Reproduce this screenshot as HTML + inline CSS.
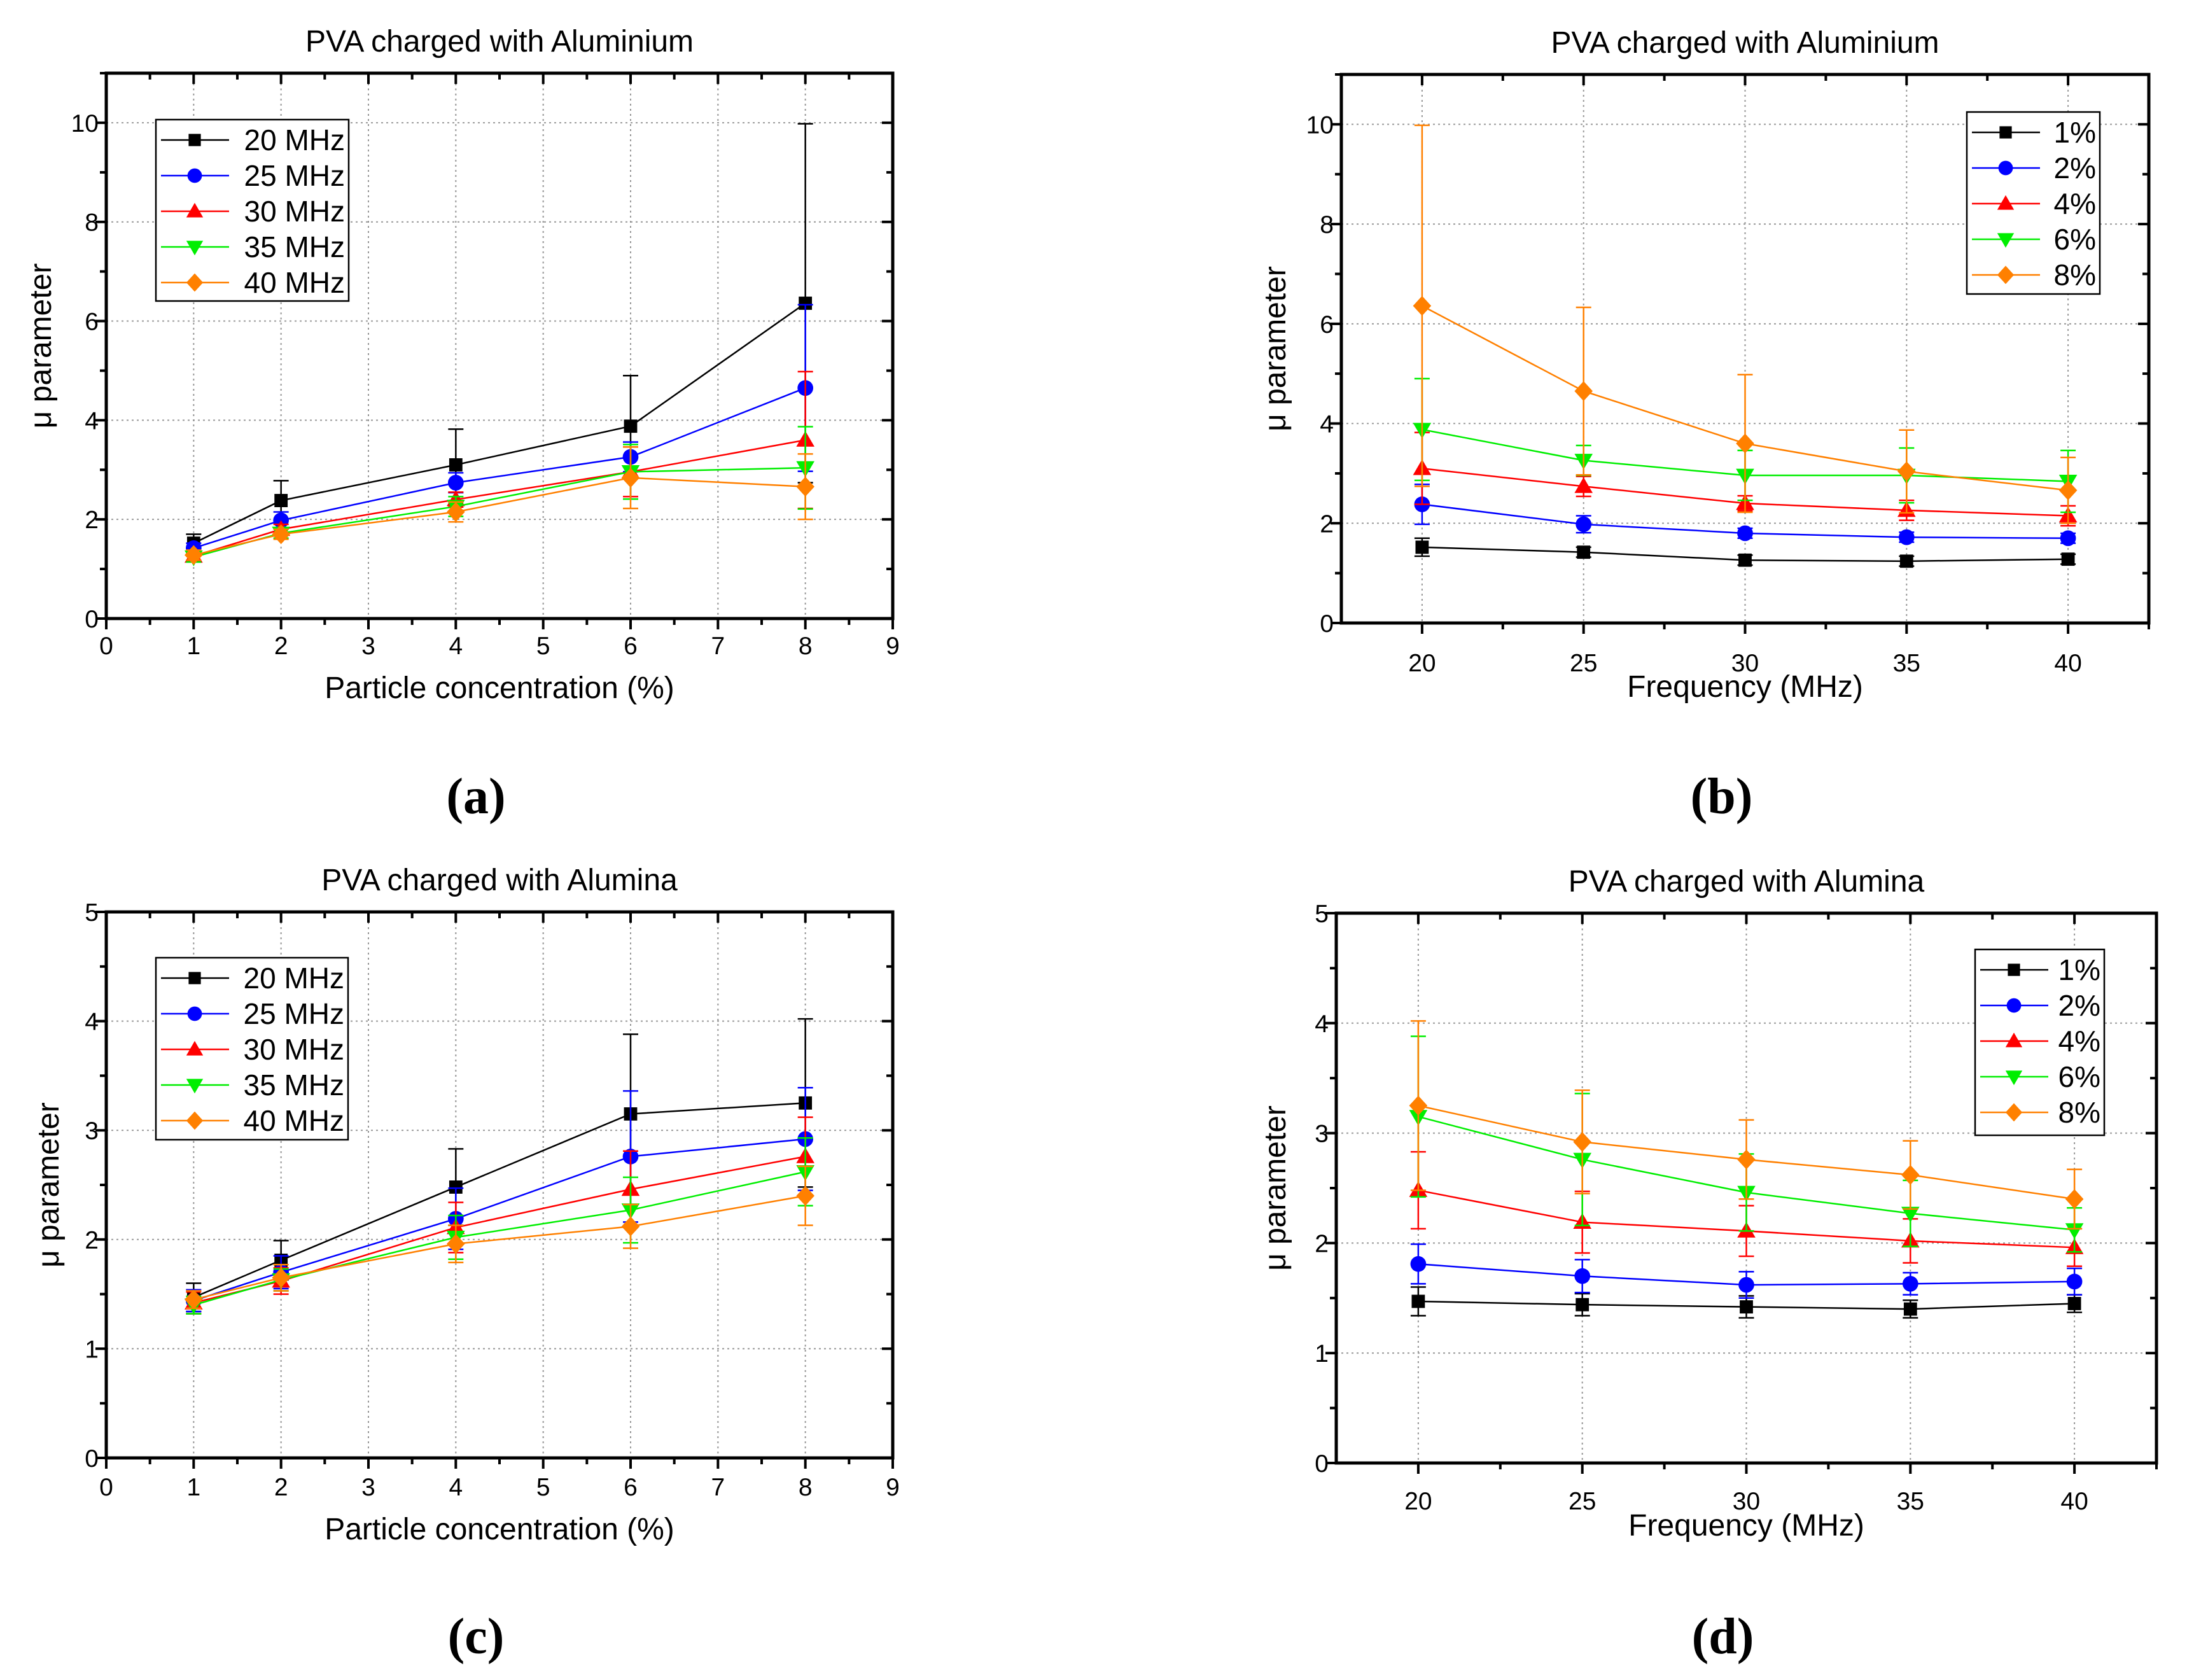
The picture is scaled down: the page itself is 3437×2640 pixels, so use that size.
<!DOCTYPE html>
<html><head><meta charset="utf-8"><style>
html,body{margin:0;padding:0;background:#fff;}
svg{display:block;font-family:"Liberation Sans",sans-serif;}
</style></head><body>
<svg id="fig" xmlns="http://www.w3.org/2000/svg" width="3437" height="2640" viewBox="0 0 3437 2640"></svg>
<script>
// ---- data ----
const concentrations = [1, 2, 4, 6, 8];
const frequencies = [20, 25, 30, 35, 40];
const freqLabels = ["20 MHz", "25 MHz", "30 MHz", "35 MHz", "40 MHz"];
const concLabels = ["1%", "2%", "4%", "6%", "8%"];
// Aluminium: rows = frequency, cols = concentration
const alu20 = [1.52, 2.38, 3.10, 3.88, 6.36];
const alu25 = [1.42, 1.98, 2.74, 3.26, 4.65];
const alu30 = [1.26, 1.80, 2.40, 2.96, 3.60];
const alu35 = [1.24, 1.72, 2.26, 2.96, 3.04];
const alu40 = [1.28, 1.70, 2.15, 2.84, 2.66];
const aluErr20 = [0.18, 0.40, 0.72, 1.02, 3.62];
const aluErr25 = [0.10, 0.17, 0.20, 0.30, 1.68];
const aluErr30 = [0.10, 0.10, 0.15, 0.50, 1.38];
const aluErr35 = [0.10, 0.10, 0.20, 0.55, 0.83];
const aluErr40 = [0.10, 0.10, 0.20, 0.62, 0.66];
// Alumina
const ala20 = [1.47, 1.81, 2.48, 3.15, 3.25];
const ala25 = [1.44, 1.70, 2.19, 2.76, 2.92];
const ala30 = [1.42, 1.62, 2.11, 2.46, 2.76];
const ala35 = [1.40, 1.63, 2.02, 2.27, 2.62];
const ala40 = [1.45, 1.65, 1.96, 2.12, 2.40];
const alaErr20 = [0.13, 0.18, 0.35, 0.73, 0.77];
const alaErr25 = [0.10, 0.15, 0.28, 0.60, 0.47];
const alaErr30 = [0.10, 0.12, 0.23, 0.35, 0.36];
const alaErr35 = [0.08, 0.10, 0.20, 0.30, 0.31];
const alaErr40 = [0.08, 0.12, 0.17, 0.20, 0.27];
const ticksConc = [0,1,2,3,4,5,6,7,8,9];
const ticksFreq = [20,25,30,35,40];
const yTicksA = [0,2,4,6,8,10];
const yTicksC = [0,1,2,3,4,5];

const colors = ["#000000","#0000ff","#ff0000","#00ee00","#ff8000"];
const markers = ["square","circle","up","down","diamond"];
const NS = "http://www.w3.org/2000/svg";
const svg = document.getElementById("fig");
function el(tag, attrs, parent){const e=document.createElementNS(NS,tag);for(const k in attrs)e.setAttribute(k,attrs[k]);(parent||svg).appendChild(e);return e;}
function txt(s, attrs, parent){const t=el("text",attrs,parent);t.textContent=s;return t;}

function marker(g, type, cx, cy, col, s){
  let m;
  if(type==="square") m=el("rect",{x:cx-s*0.8,y:cy-s*0.8,width:s*1.6,height:s*1.6,fill:col},g);
  else if(type==="circle") m=el("circle",{cx:cx,cy:cy,r:s*0.95,fill:col},g);
  else if(type==="up") m=el("polygon",{points:`${cx},${cy-s*1.1} ${cx-s*1.1},${cy+s*0.8} ${cx+s*1.1},${cy+s*0.8}`,fill:col},g);
  else if(type==="down") m=el("polygon",{points:`${cx},${cy+s*1.1} ${cx-s*1.1},${cy-s*0.8} ${cx+s*1.1},${cy-s*0.8}`,fill:col},g);
  else m=el("polygon",{points:`${cx},${cy-s*1.2} ${cx+s*1.1},${cy} ${cx},${cy+s*1.2} ${cx-s*1.1},${cy}`,fill:col},g);
  
  
  return m;
}

function panel(o){
  const g=el("g",{});
  
  
  const X=v=>o.x0+(v-o.xmin)/(o.xmax-o.xmin)*(o.x1-o.x0);
  const Y=v=>o.y1-(v-o.ymin)/(o.ymax-o.ymin)*(o.y1-o.y0);
  o.xt.forEach(v=>{ if(v>o.xmin&&v<o.xmax){const l=el("line",{x1:X(v),x2:X(v),y1:o.y0,y2:o.y1,stroke:"#999",
    "stroke-width":2,"stroke-dasharray":"3,5"},g);}});
  o.yt.forEach(v=>{ if(v>o.ymin&&v<o.ymax){const l=el("line",{x1:o.x0,x2:o.x1,y1:Y(v),y2:Y(v),stroke:"#999",
    "stroke-width":2,"stroke-dasharray":"3,5"},g);}});
  o.series.forEach((s,i)=>{
    const sg=el("g",{},g);
    
    
    const pts=o.xs.map((x,j)=>X(x)+","+Y(s[j])).join(" ");
    el("polyline",{points:pts,fill:"none",stroke:colors[i],"stroke-width":2.5},sg);
    o.xs.forEach((x,j)=>{
      const e=o.errs[i][j], cx=X(x);
      el("line",{x1:cx,x2:cx,y1:Y(s[j]+e),y2:Y(s[j]-e),stroke:colors[i],"stroke-width":2.5},sg);
      el("line",{x1:cx-12,x2:cx+12,y1:Y(s[j]+e),y2:Y(s[j]+e),stroke:colors[i],"stroke-width":2.5},sg);
      el("line",{x1:cx-12,x2:cx+12,y1:Y(s[j]-e),y2:Y(s[j]-e),stroke:colors[i],"stroke-width":2.5},sg);
    });
    o.xs.forEach((x,j)=>marker(sg,markers[i],X(x),Y(s[j]),colors[i],13));
  });
  const fr=el("rect",{x:o.x0,y:o.y0,width:o.x1-o.x0,height:o.y1-o.y0,fill:"none",stroke:"#000","stroke-width":5},g);
  
  const xstep=(o.xt[1]-o.xt[0])/2;
  for(let v=o.xt[0]; v<=o.xmax+1e-9; v+=xstep){
    if(v<o.xmin) continue;
    const major=Math.abs((v-o.xt[0])/(2*xstep)-Math.round((v-o.xt[0])/(2*xstep)))<1e-6;
    const L=major?17:10;
    el("line",{x1:X(v),x2:X(v),y1:o.y1,y2:o.y1+L,stroke:"#000","stroke-width":4},g);
    el("line",{x1:X(v),x2:X(v),y1:o.y0,y2:o.y0+L,stroke:"#000","stroke-width":4},g);
  }
  const ystep=(o.yt[1]-o.yt[0])/2;
  for(let v=o.ymin; v<=o.ymax+1e-9; v+=ystep){
    const major=Math.abs(v/(2*ystep)-Math.round(v/(2*ystep)))<1e-6;
    const L=major?17:10;
    el("line",{x1:o.x0-L,x2:o.x0,y1:Y(v),y2:Y(v),stroke:"#000","stroke-width":4},g);
    el("line",{x1:o.x1-L,x2:o.x1,y1:Y(v),y2:Y(v),stroke:"#000","stroke-width":4},g);
  }
  o.xt.forEach(v=>{const t=txt(String(v),{x:X(v),y:o.xly,"font-size":39,"text-anchor":"middle"},g);
    });
  o.yt.forEach(v=>{const t=txt(String(v),{x:o.x0-12,y:Y(v)+14,"font-size":39,"text-anchor":"end"},g);
    });
  const tt=txt(o.title,{x:(o.x0+o.x1)/2,y:o.y0-34,"font-size":48,"text-anchor":"middle"},g);
  
  const xa=txt(o.xtitle,{x:(o.x0+o.x1)/2,y:o.xty,"font-size":48,"text-anchor":"middle"},g);
  
  const ya=txt("μ parameter",{x:0,y:0,"font-size":48,"text-anchor":"middle",transform:`translate(${o.yax},${(o.y0+o.y1)/2}) rotate(-90)`},g);
  
  const pl=txt(o.plabel,{x:(o.x0+o.x1)/2+(o.plx||0),y:o.ply,"font-size":80,"font-weight":"bold","text-anchor":"middle","font-family":"Liberation Serif, serif"},g);
  
  const lg=el("g",{},g);
  
  el("rect",{x:o.lx,y:o.ly,width:o.lw,height:o.lh,fill:"#fff",stroke:"#000","stroke-width":2.5},lg);
  o.labels.forEach((lab,i)=>{
    const cy=o.ly+32+i*56;
    const eg=el("g",{},lg);
    
    el("line",{x1:o.lx+8,x2:o.lx+115,y1:cy,y2:cy,stroke:colors[i],"stroke-width":2.5},eg);
    marker(eg,markers[i],o.lx+61,cy,colors[i],12);
    txt(lab,{x:o.lx+o.lw-6,y:cy+16,"font-size":46,"text-anchor":"end"},eg);
  });
}

const transpose=m=>m[0].map((_,j)=>m.map(r=>r[j]));
const aluS=[alu20,alu25,alu30,alu35,alu40], aluE=[aluErr20,aluErr25,aluErr30,aluErr35,aluErr40];
const alaS=[ala20,ala25,ala30,ala35,ala40], alaE=[alaErr20,alaErr25,alaErr30,alaErr35,alaErr40];

panel({name:"panel-a",x0:167,x1:1403,y0:115,y1:972,xmin:0,xmax:9,ymin:0,ymax:11,xt:ticksConc,yt:yTicksA,
  xs:concentrations,series:aluS,errs:aluE,labels:freqLabels,title:"PVA charged with Aluminium",
  xtitle:"Particle concentration (%)",xly:1028,xty:1097,yax:80,plabel:"(a)",ply:1278,plx:-37,
  lx:245,ly:188,lw:303,lh:285});
panel({name:"panel-b",x0:2108,x1:3377,y0:117,y1:979,xmin:17.5,xmax:42.5,ymin:0,ymax:11,xt:ticksFreq,yt:yTicksA,
  xs:frequencies,series:transpose(aluS),errs:transpose(aluE),labels:concLabels,title:"PVA charged with Aluminium",
  xtitle:"Frequency (MHz)",xly:1055,xty:1095,yax:2020,plabel:"(b)",ply:1278,plx:-37,
  lx:3091,ly:176,lw:209,lh:286});
panel({name:"panel-c",x0:167,x1:1403,y0:1433,y1:2291,xmin:0,xmax:9,ymin:0,ymax:5,xt:ticksConc,yt:yTicksC,
  xs:concentrations,series:alaS,errs:alaE,labels:freqLabels,title:"PVA charged with Alumina",
  xtitle:"Particle concentration (%)",xly:2350,xty:2419,yax:92,plabel:"(c)",ply:2598,plx:-37,
  lx:245,ly:1505,lw:302,lh:286});
panel({name:"panel-d",x0:2100,x1:3389,y0:1435,y1:2299,xmin:17.5,xmax:42.5,ymin:0,ymax:5,xt:ticksFreq,yt:yTicksC,
  xs:frequencies,series:transpose(alaS),errs:transpose(alaE),labels:concLabels,title:"PVA charged with Alumina",
  xtitle:"Frequency (MHz)",xly:2372,xty:2413,yax:2020,plabel:"(d)",ply:2598,plx:-37,
  lx:3104,ly:1492,lw:203,lh:292});
</script>
</body></html>
